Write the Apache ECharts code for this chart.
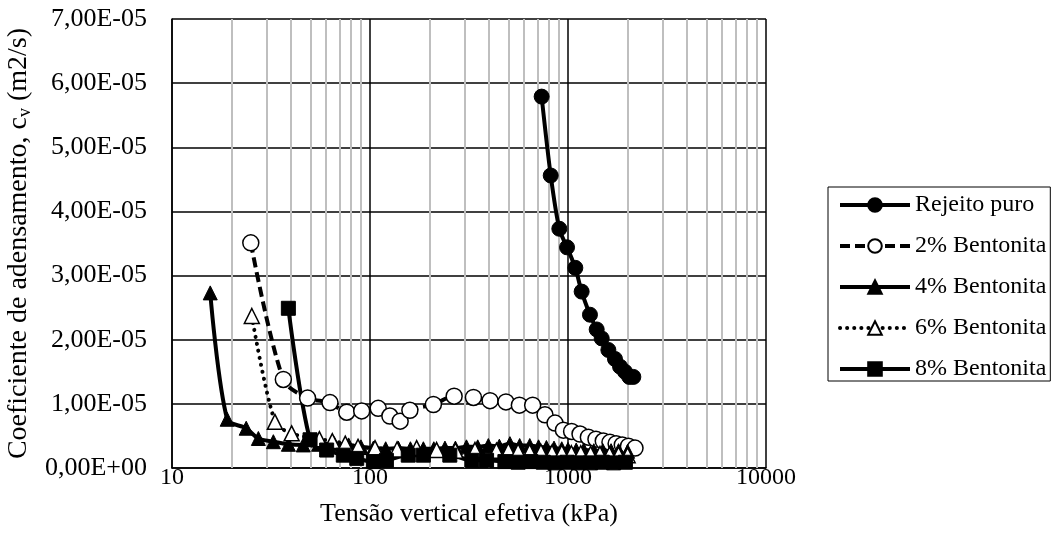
<!DOCTYPE html>
<html>
<head>
<meta charset="utf-8">
<script src="https://cdn.jsdelivr.net/npm/echarts@6/dist/echarts.min.js"></script>
<style>html,body{margin:0;padding:0;background:#fff}#c{width:1056px;height:556px}</style>
</head>
<body>
<div id="c"></div>
<script>
// ---- data (x: kPa, y: m2/s) ----
const rejeitoX = [736, 818, 904, 989, 1089, 1172, 1291, 1396, 1480, 1599, 1727, 1832, 1941, 2040, 2138];
const rejeitoY = [5.79e-5, 4.56e-5, 3.73e-5, 3.44e-5, 3.12e-5, 2.75e-5, 2.39e-5, 2.16e-5, 2.02e-5, 1.84e-5, 1.70e-5, 1.58e-5, 1.50e-5, 1.42e-5, 1.42e-5];

const bent2X = [25, 36.5, 48.4, 62.8, 76.3, 90.8, 110, 126, 142, 159, 209, 266, 333, 404, 486, 568, 663, 765, 860, 948, 1043, 1150, 1267, 1384, 1507, 1629, 1750, 1880, 2020, 2180];
const bent2Y = [3.51e-5, 1.38e-5, 1.09e-5, 1.02e-5, 0.87e-5, 0.89e-5, 0.93e-5, 0.81e-5, 0.73e-5, 0.90e-5, 0.99e-5, 1.12e-5, 1.10e-5, 1.05e-5, 1.03e-5, 0.98e-5, 0.98e-5, 0.83e-5, 0.70e-5, 0.59e-5, 0.57e-5, 0.53e-5, 0.48e-5, 0.45e-5, 0.42e-5, 0.40e-5, 0.38e-5, 0.36e-5, 0.34e-5, 0.31e-5];

const bent4X = [15.6, 19, 23.7, 27.3, 32.5, 38.7, 46, 55, 66, 78, 90, 104, 120, 139, 160, 186, 210, 239, 270, 307, 350, 396, 450, 509, 570, 641, 710, 778, 850, 930, 1000, 1100, 1200, 1350, 1500, 1650, 1800, 2000];
const bent4Y = [2.73e-5, 0.76e-5, 0.62e-5, 0.46e-5, 0.41e-5, 0.37e-5, 0.36e-5, 0.37e-5, 0.38e-5, 0.36e-5, 0.33e-5, 0.31e-5, 0.30e-5, 0.31e-5, 0.30e-5, 0.30e-5, 0.30e-5, 0.31e-5, 0.31e-5, 0.33e-5, 0.33e-5, 0.35e-5, 0.34e-5, 0.38e-5, 0.35e-5, 0.35e-5, 0.33e-5, 0.32e-5, 0.31e-5, 0.30e-5, 0.29e-5, 0.28e-5, 0.28e-5, 0.27e-5, 0.27e-5, 0.27e-5, 0.27e-5, 0.26e-5];

const bent6X = [25.3, 33.1, 40.2, 55.5, 64.5, 75, 87, 106, 137, 172, 217, 270, 339, 435, 500, 560, 640, 730, 830, 930, 1040, 1160, 1300, 1450, 1620, 1800, 2000];
const bent6Y = [2.37e-5, 0.72e-5, 0.54e-5, 0.45e-5, 0.42e-5, 0.38e-5, 0.33e-5, 0.31e-5, 0.29e-5, 0.31e-5, 0.28e-5, 0.27e-5, 0.28e-5, 0.27e-5, 0.27e-5, 0.26e-5, 0.25e-5, 0.25e-5, 0.24e-5, 0.24e-5, 0.23e-5, 0.23e-5, 0.22e-5, 0.22e-5, 0.21e-5, 0.21e-5, 0.20e-5];

const bent8X = [38.7, 49.8, 60.4, 73.3, 85.7, 104, 121, 156, 186, 253, 327, 388, 480, 560, 650, 750, 860, 990, 1130, 1300, 1490, 1700, 1950];
const bent8Y = [2.49e-5, 0.44e-5, 0.28e-5, 0.20e-5, 0.15e-5, 0.10e-5, 0.12e-5, 0.20e-5, 0.20e-5, 0.20e-5, 0.12e-5, 0.12e-5, 0.10e-5, 0.09e-5, 0.10e-5, 0.09e-5, 0.08e-5, 0.09e-5, 0.08e-5, 0.08e-5, 0.09e-5, 0.08e-5, 0.09e-5];

const seriesNames = ['Rejeito puro', '2% Bentonita', '4% Bentonita', '6% Bentonita', '8% Bentonita'];
const minorGridX = [20, 30, 40, 50, 60, 70, 80, 90, 200, 300, 400, 500, 600, 700, 800, 900, 2000, 3000, 4000, 5000, 6000, 7000, 8000, 9000];

// ---- helpers ----
const FONT = 'Liberation Serif';
function zip(xs, ys) { return xs.map((x, i) => [x, ys[i]]); }
function sci(v) {
  if (Math.abs(v) < 1e-20) return '0,00E+00';
  let e = Math.floor(Math.log10(Math.abs(v)) + 1e-9);
  let m = v / Math.pow(10, e);
  return m.toFixed(2).replace('.', ',') + 'E' + (e < 0 ? '-' : '+') + String(Math.abs(e)).padStart(2, '0');
}

const chart = echarts.init(document.getElementById('c'), null, { renderer: 'canvas' });

function mk(name, xs, ys, symbol, size, filled, lineType, cap) {
  return {
    name: name,
    type: 'line',
    data: zip(xs, ys),
    smooth: 0.3,
    symbol: symbol,
    symbolSize: size,
    showAllSymbol: true,
    z: 5,
    lineStyle: { color: '#000', width: 4, type: lineType, cap: cap || 'butt' },
    itemStyle: filled ? { color: '#000', borderColor: '#000', borderWidth: 1 } : { color: '#fff', borderColor: '#000', borderWidth: 1.5 },
    emphasis: { disabled: true }
  };
}

const option = {
  animation: false,
  backgroundColor: '#fff',
  grid: { left: 172, right: 290, top: 19, bottom: 88, containLabel: false, outerBoundsMode: 'none' },
  legend: {
    data: seriesNames,
    orient: 'vertical',
    left: 828, top: 187,
    padding: [6, 4, 0, 10],
    itemWidth: 70, itemHeight: 17, itemGap: 17,
    borderColor: '#000', borderWidth: 1,
    lineStyle: { width: 4 },
    textStyle: { fontFamily: FONT, fontSize: 24, color: '#000' },
    selectedMode: false
  },
  xAxis: {
    type: 'log', logBase: 10, min: 10, max: 10000,
    name: 'Tensão vertical efetiva (kPa)',
    nameLocation: 'middle', nameGap: 33,
    nameTextStyle: { fontFamily: FONT, fontSize: 26, color: '#000' },
    axisLine: { show: true, lineStyle: { color: '#000', width: 1.5 } },
    axisTick: { show: false },
    axisLabel: { fontFamily: FONT, fontSize: 24, color: '#000', margin: -2, formatter: v => String(Math.round(v)) },
    splitLine: { show: true, lineStyle: { color: '#000', width: 1.5 } }
  },
  yAxis: {
    type: 'value', min: 0, max: 7e-5, interval: 1e-5,
    name: '{a|Coeficiente de adensamento, c}{s|v}{a| (m2/s)}',
    nameLocation: 'middle', nameGap: 129,
    nameTextStyle: {
      color: '#000',
      rich: {
        a: { fontFamily: FONT, fontSize: 28, color: '#000' },
        s: { fontFamily: FONT, fontSize: 18, color: '#000', verticalAlign: 'bottom', padding: [13, 0, 0, 0] }
      }
    },
    axisLine: { show: true, lineStyle: { color: '#000', width: 1.5 } },
    axisTick: { show: false },
    axisLabel: { fontFamily: FONT, fontSize: 26, color: '#000', margin: 25, formatter: sci },
    splitLine: { show: true, lineStyle: { color: '#000', width: 1.5 } }
  },
  series: [
    {
      name: 'minorGrid', type: 'line', data: [], z: 1, silent: true,
      markLine: {
        silent: true, symbol: ['none', 'none'], animation: false,
        label: { show: false },
        lineStyle: { color: '#bfbfbf', width: 2, type: 'solid' },
        emphasis: { disabled: true },
        data: minorGridX.map(v => ({ xAxis: v }))
      }
    },
    mk(seriesNames[0], rejeitoX, rejeitoY, 'circle', 15, true, 'solid'),
    mk(seriesNames[1], bent2X, bent2Y, 'circle', 16, false, [10, 5]),
    mk(seriesNames[2], bent4X, bent4Y, 'triangle', 14, true, 'solid'),
    mk(seriesNames[3], bent6X, bent6Y, 'triangle', 15, false, [0.1, 7], 'round'),
    mk(seriesNames[4], bent8X, bent8Y, 'rect', 14, true, 'solid')
  ]
};
chart.setOption(option);
</script>
</body>
</html>
